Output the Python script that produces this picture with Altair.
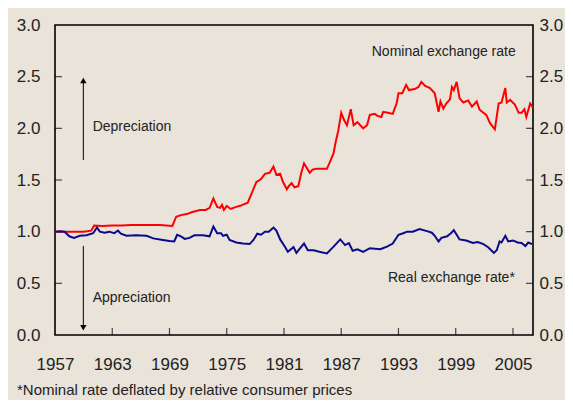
import altair as alt
import pandas as pd

FONT = "Liberation Sans, Arial, sans-serif"

nom_years = [1957.0, 1958.0, 1959.0, 1960.0, 1960.8, 1961.1, 1962.0, 1963.0, 1964.0, 1965.0,
             1966.0, 1967.0, 1968.0, 1969.3, 1969.7, 1970.2, 1970.8, 1971.4, 1972.2, 1972.8,
             1973.2, 1973.6, 1974.0, 1974.3, 1974.5, 1974.7, 1975.0, 1975.4, 1976.0, 1976.4,
             1977.2, 1977.7, 1978.1, 1978.6, 1979.0, 1979.5, 1979.9, 1980.2, 1980.6, 1980.9,
             1981.3, 1981.5, 1981.8, 1982.1, 1982.5, 1982.8, 1983.1, 1983.3, 1983.7, 1984.0,
             1984.4, 1985.1, 1985.5, 1985.8, 1986.2, 1986.4, 1986.7, 1987.0, 1987.3, 1987.6,
             1988.0, 1988.3, 1988.7, 1989.3, 1989.7, 1990.0, 1990.5, 1990.8, 1991.2, 1991.4,
             1991.9, 1992.4, 1992.8, 1993.0, 1993.4, 1993.8, 1994.1, 1994.7, 1995.1, 1995.4,
             1995.8, 1996.3, 1996.8, 1997.2, 1997.4, 1997.7, 1998.0, 1998.4, 1998.6, 1998.8,
             1999.1, 1999.4, 1999.8, 2000.3, 2000.7, 2001.2, 2001.5, 2002.2, 2002.6, 2003.1,
             2003.5, 2003.8, 2004.2, 2004.35, 2004.7, 2005.2, 2005.6, 2005.9, 2006.2, 2006.4,
             2006.8, 2007.1]
nom_values = [1.00, 1.00, 1.00, 1.00, 1.01, 1.06, 1.055, 1.06, 1.06, 1.065,
              1.065, 1.065, 1.065, 1.055, 1.145, 1.16, 1.17, 1.19, 1.21, 1.21,
              1.23, 1.32, 1.24, 1.23, 1.26, 1.21, 1.25, 1.22, 1.24, 1.25,
              1.28, 1.39, 1.48, 1.51, 1.56, 1.57, 1.63, 1.55, 1.56, 1.48,
              1.41, 1.44, 1.47, 1.43, 1.44, 1.565, 1.66, 1.63, 1.57, 1.60,
              1.61, 1.61, 1.61, 1.67, 1.76, 1.86, 1.98, 2.15, 2.08, 2.03,
              2.185, 2.03, 2.06, 2.00, 2.03, 2.13, 2.14, 2.12, 2.11, 2.16,
              2.15, 2.14, 2.24, 2.34, 2.34, 2.42, 2.37, 2.38, 2.40, 2.45,
              2.41, 2.39, 2.34, 2.16, 2.26, 2.19, 2.24, 2.28, 2.40, 2.37,
              2.45, 2.29, 2.25, 2.27, 2.21, 2.26, 2.18, 2.13, 2.05, 1.99,
              2.24, 2.25, 2.39, 2.25, 2.275, 2.23, 2.15, 2.15, 2.185, 2.11,
              2.24, 2.20]

real_years = [1957.0, 1957.5, 1958.0, 1958.5, 1959.0, 1959.6, 1960.3, 1961.0, 1961.4, 1961.7,
              1962.2, 1962.7, 1963.2, 1963.6, 1963.9, 1964.5, 1965.5, 1966.6, 1967.3, 1968.3,
              1969.0, 1969.5, 1969.8, 1970.2, 1970.6, 1971.1, 1971.6, 1972.5, 1973.2, 1973.6,
              1974.0, 1974.4, 1974.6, 1975.0, 1975.3, 1976.0, 1976.7, 1977.4, 1977.8, 1978.2,
              1978.6, 1979.0, 1979.4, 1979.9, 1980.2, 1980.6, 1981.1, 1981.4, 1982.0, 1982.3,
              1982.7, 1983.1, 1983.5, 1984.1, 1984.7, 1985.5, 1986.2, 1986.9, 1987.4, 1987.8,
              1988.2, 1988.7, 1989.3, 1990.0, 1991.1, 1991.8, 1992.4, 1993.0, 1993.5, 1993.9,
              1994.5, 1995.2, 1996.0, 1996.5, 1996.8, 1997.2, 1997.5, 1998.1, 1998.5, 1998.8,
              1999.1, 1999.4, 2000.1, 2000.8, 2001.3, 2001.9, 2002.4, 2003.0, 2003.3, 2003.6,
              2003.8, 2004.2, 2004.5, 2005.0, 2005.5, 2005.9, 2006.3, 2006.6, 2007.0]
real_values = [1.00, 1.005, 1.00, 0.955, 0.94, 0.96, 0.965, 0.985, 1.04, 1.00,
               0.99, 1.00, 0.985, 1.01, 0.98, 0.96, 0.965, 0.96, 0.935, 0.92,
               0.91, 0.905, 0.97, 0.955, 0.93, 0.94, 0.965, 0.965, 0.955, 1.05,
               0.985, 0.985, 0.96, 0.97, 0.92, 0.895, 0.885, 0.88, 0.92, 0.98,
               0.97, 1.00, 1.00, 1.04, 1.01, 0.925, 0.855, 0.805, 0.85, 0.795,
               0.84, 0.885, 0.82, 0.82, 0.805, 0.79, 0.855, 0.925, 0.87, 0.89,
               0.815, 0.83, 0.805, 0.84, 0.83, 0.855, 0.885, 0.97, 0.985, 1.00,
               1.00, 1.026, 1.005, 0.99, 0.96, 0.905, 0.94, 0.955, 0.985, 1.015,
               0.97, 0.925, 0.915, 0.89, 0.90, 0.88, 0.85, 0.795, 0.82, 0.905,
               0.895, 0.96, 0.905, 0.915, 0.895, 0.89, 0.86, 0.895, 0.88]

x_ticks = [1957, 1963, 1969, 1975, 1981, 1987, 1993, 1999, 2005]
inner_x_ticks = [1963, 1969, 1975, 1981, 1987, 1993, 1999, 2005]
y_ticks = [0.0, 0.5, 1.0, 1.5, 2.0, 2.5, 3.0]
inner_y_ticks = [0.5, 1.0, 1.5, 2.0, 2.5]

label_text = ["Nominal exchange rate", "Real exchange rate*", "Depreciation", "Appreciation"]
label_year = [1990.2, 1991.9, 1960.95, 1960.95]
label_value = [2.70, 0.516, 1.979, 0.319]

arrow_year = [1959.97, 1959.97]
arrow_from = [1.694, 0.862]
arrow_to = [2.45, 0.085]
head_value = [2.462, 0.070]
head_shape = ["triangle-up", "triangle-down"]

W, H = 478, 310
xs = alt.Scale(domain=[1957, 2007.1], nice=False, zero=False)
ys = alt.Scale(domain=[0, 3], nice=False, zero=False)

nom_df = pd.DataFrame({"year": nom_years, "value": nom_values})
real_df = pd.DataFrame({"year": real_years, "value": real_values})

axis_common = dict(domain=False, ticks=False, grid=False, labelFont=FONT, labelFontSize=17,
                   labelColor="#222222", labelFlush=False, labelOverlap=False, labelBound=False)

nominal = alt.Chart(nom_df).mark_line(color="#FF0000", strokeWidth=2).encode(
    x=alt.X("year:Q", scale=xs,
            axis=alt.Axis(values=x_ticks, format="d", title=None, labelPadding=21, **axis_common)),
    y=alt.Y("value:Q", scale=ys,
            axis=alt.Axis(values=y_ticks, format=".1f", title=None, orient="left",
                          labelPadding=15, **axis_common)),
)

real = alt.Chart(real_df).mark_line(color="#0A0A8C", strokeWidth=2).encode(
    x=alt.X("year:Q", scale=xs, axis=None),
    y=alt.Y("value:Q", scale=ys,
            axis=alt.Axis(values=y_ticks, format=".1f", title=None, orient="right",
                          labelPadding=6, **axis_common)),
)

ytick_df = pd.DataFrame({"v": inner_y_ticks})
xtick_df = pd.DataFrame({"yr": inner_x_ticks})

left_ticks = alt.Chart(ytick_df).mark_tick(orient="horizontal", color="#000", size=7,
                                           thickness=1.2).encode(
    y=alt.Y("v:Q", scale=ys, axis=None), x=alt.value(3.5))
right_ticks = alt.Chart(ytick_df).mark_tick(orient="horizontal", color="#000", size=7,
                                            thickness=1.2).encode(
    y=alt.Y("v:Q", scale=ys, axis=None), x=alt.value(W - 3.5))
bottom_ticks = alt.Chart(xtick_df).mark_tick(orient="vertical", color="#000", size=7,
                                             thickness=1.2).encode(
    x=alt.X("yr:Q", scale=xs, axis=None), y=alt.value(H - 3.5))

lab_df = pd.DataFrame({"t": label_text, "yr": label_year, "v": label_value})
labels = alt.Chart(lab_df).mark_text(align="left", baseline="alphabetic", font=FONT,
                                     fontSize=14, color="#222222").encode(
    x=alt.X("yr:Q", scale=xs, axis=None),
    y=alt.Y("v:Q", scale=ys, axis=None),
    text="t:N",
)

arr_df = pd.DataFrame({"yr": arrow_year, "a": arrow_from, "b": arrow_to,
                       "h": head_value, "s": head_shape})
shafts = alt.Chart(arr_df).mark_rule(color="#000", strokeWidth=1).encode(
    x=alt.X("yr:Q", scale=xs, axis=None),
    y=alt.Y("a:Q", scale=ys, axis=None),
    y2="b:Q",
)
heads = alt.Chart(arr_df).mark_point(filled=True, color="#000", size=40, opacity=1).encode(
    x=alt.X("yr:Q", scale=xs, axis=None),
    y=alt.Y("h:Q", scale=ys, axis=None),
    shape=alt.Shape("s:N", scale=alt.Scale(domain=head_shape, range=head_shape), legend=None),
)

chart = alt.layer(
    left_ticks, right_ticks, bottom_ticks, shafts, heads, labels, nominal, real
).resolve_axis(y="independent", x="independent").properties(
    width=W, height=H,
    autosize=alt.AutoSizeParams(type="none"),
    padding={"left": 47, "top": 17, "right": 32, "bottom": 65},
    background="#E9E3DA",
    title=alt.TitleParams(
        text="*Nominal rate deflated by relative consumer prices",
        orient="bottom", anchor="start", frame="group", dx=-38, offset=11,
        font=FONT, fontSize=15, fontWeight="normal", color="#222222",
    ),
).configure_view(stroke="#000000", strokeWidth=1.6, fill="#E9E3DA")

chart.save("out.html", embed_options={"renderer": "svg", "actions": False})
